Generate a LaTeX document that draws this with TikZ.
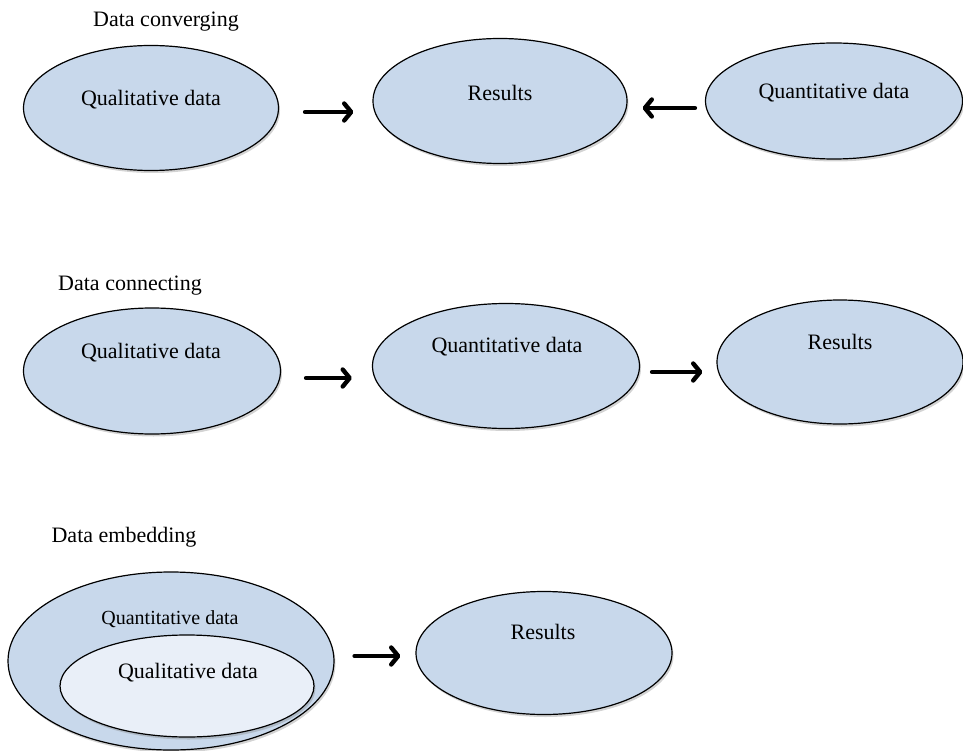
\documentclass[tikz,border=0pt]{standalone}
\usepackage{fontspec}
\setmainfont{Liberation Serif}
\usetikzlibrary{shapes.geometric,arrows.meta,shadows}
\definecolor{blobblue}{RGB}{200,216,235}
\definecolor{paleblue}{RGB}{233,239,248}
\tikzset{
  blob/.style={ellipse, draw=black, line width=1.2pt, fill=blobblue, inner sep=0pt,
    drop shadow={shadow xshift=1.5pt, shadow yshift=-2.5pt, opacity=0.35}},
  txt/.style={font=\fontsize{22}{24}\selectfont, inner sep=0pt},
  smalltxt/.style={font=\fontsize{20}{22}\selectfont, inner sep=0pt},
  arr/.style={line width=4.4pt, line cap=round,
    -{Straight Barb[length=7pt,width=17pt,round,line width=4.4pt]}},
}
\begin{document}
\begin{tikzpicture}[x=1pt,y=-1pt]
\useasboundingbox (0,0) rectangle (963,751);

% Data converging
\node[txt] (t1) at (166,22) {Data converging};
\node[blob, minimum width=255, minimum height=125] (q1) at (151,108) {};
\node[blob, minimum width=254, minimum height=125] (r1) at (500,101) {};
\node[blob, minimum width=257, minimum height=116] (n1) at (834,101) {};
\node[txt] (q1t) at (151,100) {Qualitative data};
\node[txt] (r1t) at (500,93) {Results};
\node[txt] (n1t) at (834,93) {Quantitative data};
\draw[arr] ([shift={(26,4)}]q1.east) -- ([shift={(-19,11)}]r1.west);
\draw[arr] ([shift={(-10,7)}]n1.west) -- ([shift={(15,7)}]r1.east);

% Data connecting
\node[txt] (t2) at (130,286) {Data connecting};
\node[blob, minimum width=257, minimum height=126] (q2) at (152,371) {};
\node[blob, minimum width=267, minimum height=125] (n2) at (506,366) {};
\node[blob, minimum width=246, minimum height=124] (r2) at (840,362) {};
\node[txt] (q2t) at (151,353) {Qualitative data};
\node[txt] (n2t) at (507,347) {Quantitative data};
\node[txt] (r2t) at (840,342) {Results};
\draw[arr] ([shift={(25,7)}]q2.east) -- ([shift={(-20,12)}]n2.west);
\draw[arr] ([shift={(12,6)}]n2.east) -- ([shift={(-14,10)}]r2.west);

% Data embedding
\node[txt] (t3) at (124,537) {Data embedding};
\node[blob, minimum width=326, minimum height=178] (n3) at (171,661) {};
\node[smalltxt] (n3t) at (170,619) {Quantitative data};
\node[blob, fill=paleblue, minimum width=254, minimum height=102] (q3) at (187,686) {};
\node[txt] (q3t) at (188,673) {Qualitative data};
\node[blob, minimum width=256, minimum height=123] (r3) at (544,653) {};
\node[txt] (r3t) at (543,632) {Results};
\draw[arr] ([shift={(20,-5)}]n3.east) -- ([shift={(-15,3)}]r3.west);
\end{tikzpicture}
\end{document}
